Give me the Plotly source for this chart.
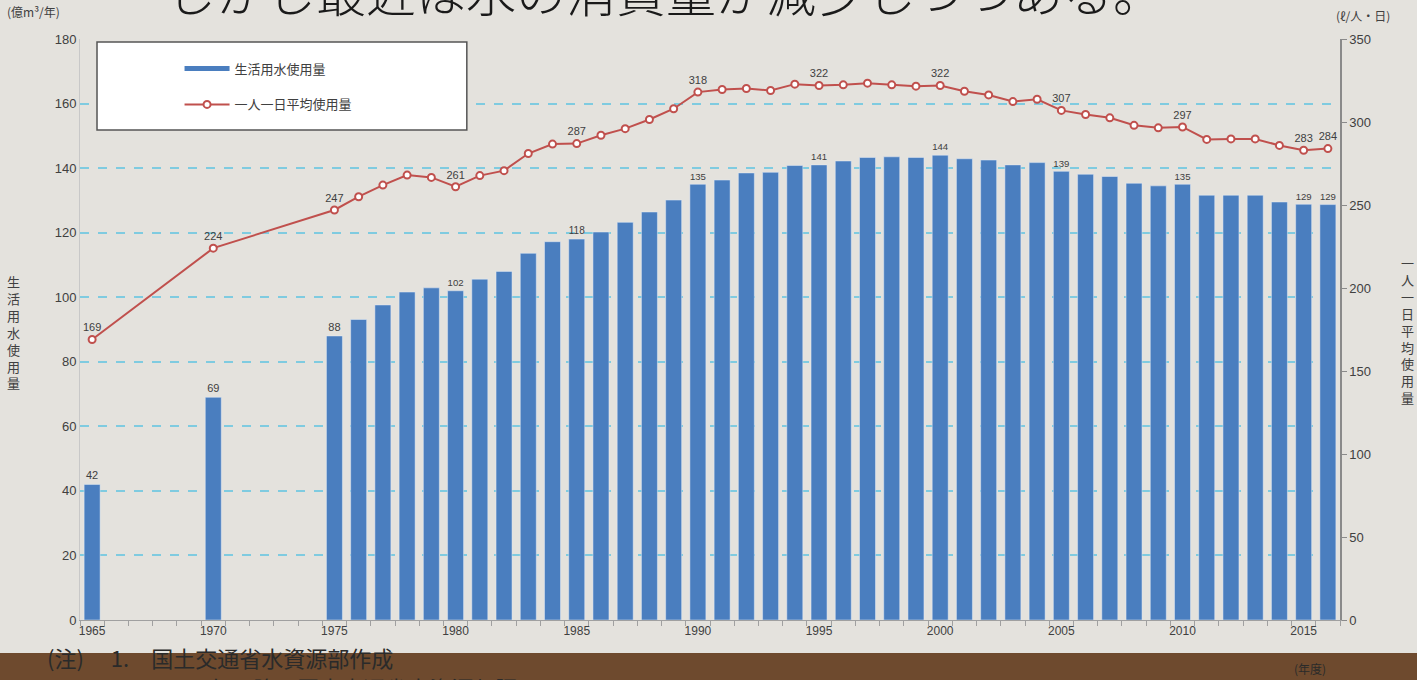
import plotly.graph_objects as go

# ---- data ----
years = [1965, 1970] + list(range(1975, 2017))
usage = [42, 69,
         88, 93.1, 97.6, 101.6, 102.9, 102, 105.6, 108, 113.6, 117.2,
         118, 120.2, 123.2, 126.4, 130.1, 135, 136.3, 138.5, 138.7, 140.8,
         141, 142.2, 143.3, 143.5, 143.3, 144, 142.9, 142.5, 141, 141.7,
         139, 138.1, 137.4, 135.3, 134.5, 135, 131.6, 131.6, 131.6, 129.5,
         128.8, 128.7]
per_capita = [169, 224,
              247, 255, 262, 268, 266.6, 261, 267.7, 270.7, 281, 286.7,
              287, 292, 296, 301.5, 308, 318, 319.6, 320.2, 319, 322.8,
              322, 322.4, 323.4, 322.4, 321.6, 322, 318.5, 316.3, 312.3, 313.7,
              307, 304.5, 302.5, 298, 296.5, 297, 289.5, 289.8, 289.8, 285.9,
              283, 284]
label_years_bar = [1965, 1970, 1975, 1980, 1985, 1990, 1995, 2000, 2005, 2010, 2015, 2016]
label_years_line = [1965, 1970, 1975, 1980, 1985, 1990, 1995, 2000, 2005, 2010, 2015, 2016]
tick_years = [1965, 1970, 1975, 1980, 1985, 1990, 1995, 2000, 2005, 2010, 2015]

bar_name = "生活用水使用量"
line_name = "一人一日平均使用量"
left_title = "生活用水使用量"
right_title = "一人一日平均使用量"
title_text = "しかし最近は水の消費量が減少しつつある。"

BLUE = "#4a7ebf"
RED = "#c0504d"
TXT = "#404040"
BG = "#e4e2dd"

bar_text = [f"{round(v)}" if y in label_years_bar else "" for y, v in zip(years, usage)]
line_text = [f"{round(v)}" if y in label_years_line else "" for y, v in zip(years, per_capita)]

fig = go.Figure()

fig.add_trace(go.Bar(
    x=years, y=usage, name=bar_name, marker_color=BLUE, width=0.66,
    text=bar_text, textposition="outside", cliponaxis=False,
    textfont=dict(size=11, color=TXT, family="Liberation Sans"),
    showlegend=False, yaxis="y"))

# legend proxy for bar series (Excel-like thick line)
fig.add_trace(go.Scatter(
    x=[None], y=[None], mode="lines", name=bar_name,
    line=dict(color=BLUE, width=5), legendgroup="a", yaxis="y"))

fig.add_trace(go.Scatter(
    x=years, y=per_capita, name=line_name, mode="lines+markers+text",
    line=dict(color=RED, width=2),
    marker=dict(symbol="circle", size=7, color="white", line=dict(color=RED, width=2)),
    text=line_text, textposition="top center", cliponaxis=False,
    textfont=dict(size=11, color=TXT, family="Liberation Sans"),
    legendgroup="b", yaxis="y2"))

fig.update_layout(
    width=1417, height=680,
    margin=dict(l=80, r=77, t=39, b=60),
    paper_bgcolor=BG, plot_bgcolor=BG,
    font=dict(family="Noto Sans CJK JP", color=TXT),
    bargap=0.3,
    xaxis=dict(
        range=[1964.5, 2016.5], tickmode="array", tickvals=tick_years,
        ticktext=[str(t) for t in tick_years], ticks="",
        tickfont=dict(size=12, color=TXT, family="Liberation Sans"),
        showgrid=False, zeroline=False, showline=True, linecolor="#a0a0a0", linewidth=1,
        minor=dict(tick0=1964.5, dtick=1, ticks="outside", ticklen=5, tickcolor="#a0a0a0", showgrid=False),
    ),
    yaxis=dict(
        range=[0, 180], dtick=20, showgrid=True, gridcolor="#7fcbe0",
        griddash="dash", gridwidth=1.5, zeroline=False, showline=True,
        linecolor="#c8c8c8", ticks="",
        tickfont=dict(size=13, color=TXT, family="Liberation Sans"),
    ),
    yaxis2=dict(
        range=[0, 350], dtick=50, overlaying="y", side="right", showgrid=False,
        zeroline=False, showline=True, linecolor="#8a8a8a", linewidth=1.5,
        ticks="outside", ticklen=5, tickcolor="#8a8a8a",
        tickfont=dict(size=13, color=TXT, family="Liberation Sans"),
    ),
    legend=dict(
        x=0.079, y=0.975, xanchor="left", yanchor="top",
        bgcolor="rgba(0,0,0,0)", borderwidth=0, itemwidth=45,
        tracegroupgap=16, font=dict(size=13, color=TXT, family="Noto Sans CJK JP"),
    ),
)

# legend box
fig.add_shape(type="rect", xref="paper", yref="paper",
              x0=0.0135, x1=0.307, y0=0.8434, y1=0.9948,
              fillcolor="white", line=dict(color="#555555", width=1.5), layer="above")

# wooden floor band at bottom
fig.add_shape(type="rect", xref="paper", yref="paper",
              x0=-0.07, x1=1.07, y0=-0.11, y1=-0.0568,
              fillcolor="#6e4a2e", line=dict(width=0), layer="below")

ann = [
    dict(text=title_text, x=0.464, y=1.084, xref="paper", yref="paper",
         xanchor="center", yanchor="middle",
         showarrow=False, font=dict(size=50, color="#1a1a1a", family="Noto Sans CJK JP", weight=300)),
    dict(text="(億m³/年)", x=-0.0143, y=1.0465, xref="paper", yref="paper",
         xanchor="right", yanchor="middle", showarrow=False, font=dict(size=12, color=TXT)),
    dict(text="(ℓ/人・日)", x=1.018, y=1.0413, xref="paper", yref="paper",
         xanchor="center", yanchor="middle", showarrow=False, font=dict(size=12, color=TXT)),
    dict(text="<br>".join(left_title), x=-0.0524, y=0.4957, xref="paper", yref="paper",
         xanchor="center", yanchor="middle", showarrow=False, font=dict(size=13, color=TXT)),
    dict(text="<br>".join(right_title), x=1.0532, y=0.499, xref="paper", yref="paper",
         xanchor="center", yanchor="middle", showarrow=False, font=dict(size=13, color=TXT)),
    dict(text="(注)　 1.　国土交通省水資源部作成", x=-0.028, y=-0.0637, xref="paper", yref="paper",
         xanchor="left", yanchor="middle", showarrow=False, font=dict(size=22, color="#2a2a2a")),
    dict(text="2.　1975年以降は国土交通省水資源部調べ", x=0.03, y=-0.1153, xref="paper", yref="paper",
         xanchor="left", yanchor="middle", showarrow=False, font=dict(size=22, color="#2a2a2a")),
    dict(text="(年度)", x=0.976, y=-0.083, xref="paper", yref="paper",
         xanchor="center", yanchor="middle", showarrow=False, font=dict(size=12, color="#2a2a2a")),
]
fig.update_layout(annotations=ann)

fig.write_html(
    "out.html",
    config={"displayModeBar": False},
    post_script="document.body.style.margin='0';document.body.style.background='#e4e2dd';",
)
